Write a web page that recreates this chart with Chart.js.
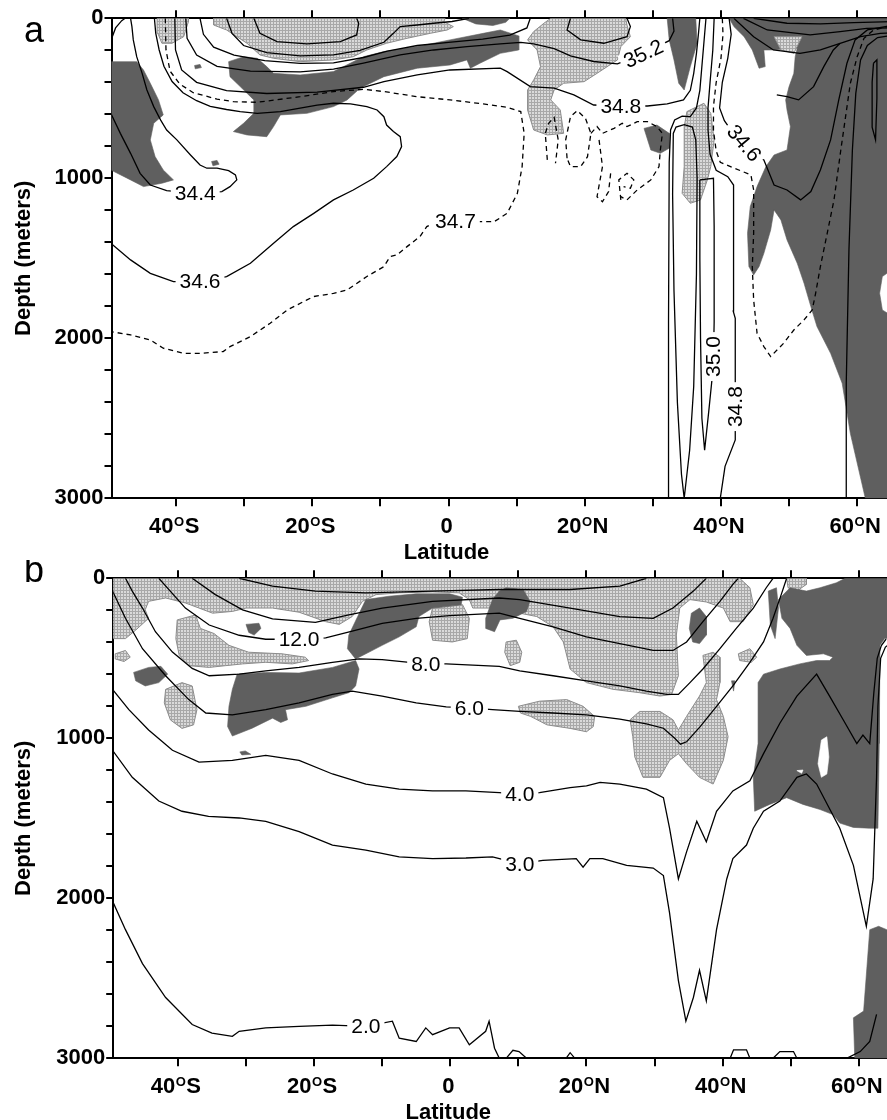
<!DOCTYPE html>
<html><head><meta charset="utf-8">
<script src="https://cdn.jsdelivr.net/npm/chart.js@4.4.1/dist/chart.umd.min.js"></script>
<style>
html,body{margin:0;padding:0;background:#fff;overflow:hidden;width:887px;height:1120px;}
#wa{position:absolute;left:0;top:0;width:900px;height:565px;}
#wb{position:absolute;left:0;top:560px;width:900px;height:560px;}
</style></head><body>
<div id="wa"><canvas id="ca" width="900" height="565"></canvas></div>
<div id="wb"><canvas id="cb" width="900" height="560"></canvas></div>
<script>
// ---------- axes ----------
const latMin = -49.5, latMax = 65;
const latTicks = [-40,-30,-20,-10,0,10,20,30,40,50,60];
const latLabelValues = [-40,-20,0,20,40,60];
const latLabelText = ['40ᴼS','20ᴼS','0','20ᴼN','40ᴼN','60ᴼN'];
const depthMin = 0, depthMax = 3000, depthStep = 200;
const depthLabels = [0,1000,2000,3000];

// ---------- panel a : salinity ----------
const aDarkWest = [[-49.6,271],[-45.8,271],[-44.8,323],[-43.8,406],[-42.6,510],[-41.9,604],[-43.3,656],[-43.8,760],[-43.1,864],[-41.9,948],[-40.4,1010],[-42.1,1031],[-44.8,1052],[-46.7,1010],[-49.6,948]];
const aDarkDot1 = [[-34.8,895],[-34,888],[-33.7,912],[-34.6,922]];
const aDarkDot2 = [[-37.3,295],[-36.5,288],[-36.3,308],[-37.2,316]];
const aLightWest = [[-42.8,0],[-38.2,0],[-38.2,21],[-38.9,115],[-40.6,156],[-42.1,156],[-42.7,94]];
const aLightSouth = [[-34.5,0],[-34.5,42],[-32.6,73],[-29.6,156],[-27.7,229],[-25.7,250],[-21.8,271],[-16.9,260],[-14,240],[-12,198],[-9.1,156],[-6.1,125],[-2.7,94],[-0.2,73],[0.7,52],[-0.7,21],[-0.5,0]];
const aDarkBand = [[-32.3,271],[-30.1,240],[-28.1,250],[-26.7,302],[-25.7,344],[-21.8,354],[-16.9,333],[-12.5,240],[-9.5,208],[-4.6,177],[0.2,135],[5.1,94],[7.6,73],[10.3,110],[10.3,198],[7.6,219],[4.6,281],[3.2,312],[2.7,260],[0.2,292],[-4.6,312],[-9.5,365],[-13,437],[-14.9,510],[-16.9,552],[-20.8,594],[-24.7,604],[-25.7,677],[-26.7,740],[-29.6,729],[-31.6,708],[-30.1,656],[-28.6,594],[-28.6,510],[-30.6,427],[-32.1,365]];
const aDarkTop = [[2,0],[9,0],[8.4,25],[6.5,45],[4,35]];
const aDarkNH1 = [[32.1,0],[36.3,0],[36.5,156],[35.5,302],[34.6,448],[33.8,406],[33.1,260],[32.4,135]];
const aDarkNH2 = [[28.7,688],[30.6,667],[32.4,719],[32.4,812],[31.1,844],[29.7,823]];
const aLightNH1 = [[12.5,83],[14,31],[15,0],[26,0],[26.2,42],[26.7,115],[25.3,177],[24.8,260],[21.8,344],[19.9,396],[16.9,406],[15.5,448],[15,510],[16.4,573],[16.9,719],[14.5,729],[12.5,698],[11.6,573],[11.6,448],[12.5,385],[13.5,302],[13,198],[11.6,135]];
const aLightNH2 = [[35,583],[37.5,531],[38.5,594],[39,760],[38.5,927],[38,1010],[37,1135],[35.5,1156],[34.3,1094],[34.6,927],[34.6,677]];
const aLightNH3 = [[47.8,115],[51.9,115],[50.7,219],[48.8,198]];
const aDarkNorth = [[41.2,0],[65.5,0],[65.5,1560],[63.7,1614],[63.3,1718],[63.7,1823],[65.5,1870],[65.5,3000],[61.2,3000],[59,2594],[57.8,2281],[56.1,2094],[54.1,1927],[53.2,1802],[52.2,1656],[51.2,1531],[49.7,1385],[48.8,1260],[47.8,1198],[47.3,1323],[46.3,1469],[45.6,1552],[44.8,1604],[44.1,1552],[43.9,1344],[44.3,1177],[45.3,1052],[46.6,927],[47.8,854],[49.7,823],[50.2,677],[49.7,573],[49.5,510],[50,427],[50.7,344],[50.9,240],[51.2,187],[47.3,198],[46.3,198],[46.5,302],[45.6,312],[44.6,198],[43.4,115],[41.9,52]];

const aC344 = [[-49.6,594],[-48.2,719],[-46.7,844],[-45.3,969],[-43.8,1042],[-41.4,1077],[-37.2,1094],[-33.3,1083],[-32.1,1052],[-31.1,1010],[-31.3,979],[-32.3,952],[-34,937],[-35.5,937],[-36.5,917],[-37.9,854],[-39.9,760],[-41.4,698],[-42.3,635],[-43.3,552],[-44.3,448],[-45,344],[-45.8,240],[-46.3,135],[-46.5,52],[-46.7,0]];
const aCCorner = [[-49.6,140],[-48.9,60],[-48,15],[-47.5,0]];
const aC346 = [[-49.6,1406],[-46.7,1510],[-43.8,1594],[-40.4,1646],[-36.5,1646],[-32.6,1614],[-29.1,1531],[-25.7,1406],[-22.8,1302],[-19.8,1219],[-16.9,1135],[-14,1073],[-11,1000],[-9.1,927],[-7.6,864],[-6.9,802],[-7.1,740],[-8.1,708],[-9.1,667],[-9.5,615],[-10.5,573],[-12,552],[-14.4,535],[-16.9,531],[-19.3,542],[-21.8,562],[-24.7,583],[-28.1,594],[-30.6,583],[-32.6,570],[-35,550],[-37,515],[-39,465],[-40.6,395],[-41.8,300],[-42.5,198],[-43,94],[-43.2,0]];
const aC348 = [[-40.2,0],[-40.1,198],[-39.2,323],[-37,400],[-32.6,452],[-26.7,470],[-19.3,462],[-12.5,431],[-9.5,396],[-4.6,354],[0.2,323],[7.6,312],[8.6,333],[12,427],[15.5,437],[18.4,479],[21.3,542],[25.3,548],[29.2,548],[32.1,535],[34.5,510],[35.5,450],[36,344],[36.4,219],[36.7,94],[36.9,0]];
const aC352 = [[-38.6,0],[-38.4,125],[-37,230],[-34,300],[-29.1,330],[-21.8,335],[-16.9,318],[-12.5,280],[-7.1,229],[-2.2,198],[2.7,177],[7.6,160],[10.6,150],[12.5,160],[15.5,190],[17.9,235],[21.3,270],[24.8,285],[27.7,235],[30.5,180],[32.4,140],[33.1,80],[32.9,0]];
const aCN5 = [[-36.5,0],[-36,100],[-34.5,180],[-31.5,230],[-27,265],[-21.8,282],[-16.9,278],[-12.5,245],[-9,205],[-4.6,170],[0,150],[5,130],[9,105],[11.5,60],[12,0]];
const aCU1 = [[-28.6,0],[-27.7,94],[-25.2,146],[-20.8,160],[-15.9,146],[-13.5,104],[-13.2,31],[-13.5,0]];
const aCU2 = [[-32.6,0],[-31.8,94],[-30.1,170],[-26.7,215],[-21.8,235],[-16.9,228],[-13,200],[-9.5,150],[-8.1,94],[-7.1,52],[-4.6,42],[-2.2,31],[0.5,20],[3,0]];
const aCNHin = [[17.9,0],[17.4,73],[19.4,135],[22.8,156],[26.2,115],[26.7,52],[26.2,0]];
const aCA = [[32.3,3000],[32.3,1900],[32.4,900],[32.6,698],[33.2,635],[34.3,612],[35.5,615],[36.4,560],[36.9,450],[37.2,300],[37.5,150],[37.8,0]];
const aCB = [[34.6,3000],[34.2,2850],[33.6,2400],[33.1,1700],[32.9,1100],[33,720],[33.4,680],[34.6,665],[35.8,680],[36.3,760],[36.5,1000],[36.4,1600],[36,2300],[35.4,2700],[34.6,3000]];
const aC350 = [[36.9,1010],[38.9,1000],[39,1300],[39,1900],[38.9,2114],[38.7,2250],[38.2,2460],[37.6,2700],[37.2,2500],[37,2000],[36.9,1500],[36.9,1010]];
const aCD = [[39.9,3000],[40.6,2800],[42.1,2635],[42.1,2427],[42.1,2250],[42.1,1875],[41.8,1830],[41.8,1400],[41.9,1042],[41,990],[39.3,950],[38.4,850],[38.1,700],[38.1,560],[38.4,400],[38.8,200],[39,0]];
const aCT1 = [[41.2,0],[41.5,100],[41,250],[40.2,400],[39.8,560],[40.5,640],[41.5,700],[43.4,781],[45.2,860],[46.3,885],[47.8,1042],[49.7,1073],[51.7,1135],[53.2,1083],[54.6,948],[56.1,760],[57.3,510],[58.5,281],[59.7,135],[61.5,73],[65.5,42]];
const aCT2 = [[58.5,3000],[58.4,2280],[58.8,1440],[59.3,823],[59.8,469],[60.5,260],[61.5,170],[63,120],[65.5,105]];
const aCLoop = [[62.4,281],[62.9,260],[62.9,500],[62.7,760],[62.2,680],[62.2,400],[62.4,281]];
const aCArcLow = [[41.9,0],[44.8,115],[47.7,198],[51.6,219],[54.6,198],[57.5,156],[60.5,115],[63.4,94],[65.5,90]];
const aCArcMid = [[43.3,0],[46.8,73],[53.1,104],[57.5,83],[61.4,63],[65.5,60]];
const aCArcTop = [[44.8,0],[49.7,31],[54.6,35],[59.5,27],[65.5,20]];
const aCZig = [[48.2,479],[49.7,490],[51.4,510],[53.6,427],[55.1,302],[56.5,198],[57.5,156]];

const aD347 = [[-41.6,0],[-41.5,198],[-40.9,330],[-39.5,410],[-37.5,465],[-34,505],[-31.6,521],[-28.1,525],[-21.8,490],[-16.9,458],[-12.5,444],[-9.5,458],[-4.6,490],[0.2,510],[5.1,535],[8.6,556],[10.6,583],[11.1,719],[10.8,927],[10.1,1094],[8.6,1219],[6.7,1271],[5.1,1271],[1,1271],[-2.2,1281],[-3.2,1302],[-4.2,1364],[-6.1,1427],[-7.6,1479],[-8.6,1490],[-9.5,1552],[-12,1614],[-14.9,1698],[-16.9,1719],[-19.8,1739],[-20.8,1760],[-23.7,1823],[-26.2,1906],[-29.1,1989],[-32.1,2052],[-33.1,2083],[-36.5,2094],[-38.9,2094],[-41.9,2062],[-43.8,2010],[-46.7,1979],[-49.6,1958]];
const aD5 = [[40.2,0],[40.3,100],[40,250],[39.3,400],[38.9,550],[38.9,700],[39.3,830],[39.9,900],[41.4,927],[44.4,979],[44.8,1073],[44.8,1344],[44.6,1552],[44.8,1760],[45.3,1968],[46.3,2052],[47.3,2114],[49.2,2031],[50.7,1948],[52.2,1885],[53.4,1823],[53.9,1719],[54.6,1552],[55.6,1344],[56.6,1135],[57.6,823],[58.3,615],[59,406],[60,240],[61,125],[62.4,73],[65.5,42]];
const aDW1 = [[14.5,885],[14.2,719],[14.7,656],[15.5,619],[16.1,760],[15.7,906]];
const aDW2 = [[17.4,875],[17.2,760],[17.9,615],[18.9,577],[20.1,625],[20.9,719],[20.4,865],[19.4,927],[17.9,927],[17.4,875]];
const aDW3 = [[20.9,719],[21.8,677],[22.6,719],[24.3,688],[25.5,656],[26.2,677],[27.7,646],[29.2,646],[30.6,677],[31.4,719],[31.1,823],[30.9,927],[29.7,1010],[27.7,1073],[26.2,1135],[25.3,1115]];
const aDW4 = [[22.1,760],[22.6,927],[21.8,1115],[22.6,1146],[23.5,1083],[23.8,969]];
const aDW5 = [[25.3,1135],[25,1010],[26.2,969],[27.2,1010],[26.7,1062],[25.7,1052]];
const aLabels = [[-37.2,1094,'34.4',0],[-36.5,1646,'34.6',0],[1,1271,'34.7',0],[28.6,222,'35.2',-25],[25.3,548,'34.8',0],[43.4,781,'34.6',50],[38.9,2114,'35.0',-90],[42.1,2427,'34.8',-90]];

// ---------- panel b : temperature ----------
const bLightTop = [[-49.6,0],[42.5,0],[44,59],[44.5,165],[43,271],[41.1,271],[40.1,186],[37.6,148],[35.2,133],[33.7,186],[33.2,355],[33.5,609],[32.5,726],[30.8,736],[27.8,715],[23.9,694],[20,652],[17.6,567],[16.6,398],[15.1,303],[12.7,239],[10.2,218],[7.8,186],[6.3,186],[3.3,186],[2.8,133],[1.3,91],[-2.6,85],[-7.5,91],[-10.9,102],[-12.9,144],[-14.4,239],[-16.3,288],[-18.3,271],[-22.2,212],[-26.1,186],[-30,186],[-32,207],[-34.9,218],[-36.9,186],[-38.9,154],[-41.8,123],[-44.3,144],[-44.8,197],[-44.3,250],[-46.2,324],[-47.7,377],[-49.6,377]];
const bLightP0 = [[-3.1,271],[-2.6,186],[-0.1,176],[1.8,165],[2.8,250],[2.5,377],[0.3,398],[-2.6,387]];
const bLightP1 = [[-40.1,260],[-37.4,229],[-36.7,313],[-34.7,345],[-32.5,419],[-29.6,462],[-24.7,472],[-21.3,493],[-20.8,514],[-23.2,535],[-27.1,525],[-30.5,535],[-33,546],[-35.4,557],[-38.4,546],[-39.8,483],[-40.3,377]];
const bLightP2 = [[-49.2,472],[-47.7,451],[-47,493],[-47.9,520],[-49.2,504]];
const bLightP3 = [[-41.8,694],[-39.4,652],[-37.9,673],[-37.2,821],[-37.7,916],[-39.4,938],[-41.1,885],[-42,779]];
const bLightP4 = [[8.2,398],[9.7,387],[10.5,462],[10.2,525],[8.8,546],[8,462]];
const bLightP5 = [[10,800],[13.1,768],[17.1,758],[19.5,800],[21.2,863],[21,927],[20,959],[17.6,938],[14.2,916],[11.8,863],[10.3,842]];
const bLightP6 = [[26.4,884],[27.8,832],[30.8,832],[32.7,884],[33.5,948],[34.7,863],[36.6,736],[37.6,652],[37.1,482],[38.6,462],[39.6,493],[39.6,652],[39.1,758],[40.1,863],[40.8,990],[40.1,1138],[38.6,1286],[36.6,1244],[34.7,1159],[33.5,1096],[32.2,1138],[30.8,1244],[28.3,1244],[27.1,1117],[26.8,990]];
const bLightP7 = [[42.3,472],[44,440],[45,493],[44.2,525],[42.5,514]];
const bLightP8 = [[49.4,0],[52.3,0],[52.3,38],[50.9,80],[49.6,59]];
const bDark1 = [[-12.4,133],[-9,112],[-5,97],[-0.1,97],[1.8,118],[1.6,165],[-2.6,186],[-4.6,239],[-5,303],[-7.5,366],[-10,419],[-12.4,472],[-13.9,504],[-15.1,440],[-14.9,355],[-13.6,239]];
const bDark2 = [[-31.3,599],[-27.1,588],[-22.2,592],[-17.3,557],[-13.9,514],[-13.4,567],[-13.9,673],[-14.9,715],[-17.3,747],[-21.2,800],[-24.2,821],[-23.9,884],[-24.9,901],[-26.1,874],[-29.1,937],[-32,986],[-32.7,927],[-32.5,800],[-32,694]];
const bDark3 = [[-46.5,588],[-44.3,557],[-42.5,550],[-41.5,599],[-42.8,652],[-44.8,673],[-46.2,641]];
const bDark4 = [[-30,288],[-28.1,281],[-27.8,313],[-28.8,355],[-29.6,338]];
const bDark5 = [[-30.9,1085],[-30.1,1079],[-29.3,1100],[-30.6,1104]];
const bDark6 = [[5.2,250],[6.2,133],[7.2,80],[8.2,59],[10.7,70],[11.7,144],[11.2,207],[9.2,250],[7.3,260],[6.5,334],[5.2,313]];
const bDark7 = [[35.4,218],[36.6,186],[37.6,239],[37.6,355],[36.6,408],[35.6,398],[35.1,313]];
const bDark8 = [[41.3,641],[41.8,641],[41.6,705]];
const bDark9 = [[46.7,80],[47.9,59],[48.2,186],[47.7,377],[47,292]];
const bDark10 = [[48.2,133],[49.9,59],[52.3,80],[54.3,59],[56.7,28],[58,0],[65.5,0],[65.5,377],[63.8,377],[63.1,419],[63,1033],[62.8,1562],[61.6,1562],[59.2,1557],[57.2,1530],[56.2,1477],[54.3,1445],[51.8,1413],[49.4,1371],[46.9,1413],[44.7,1456],[44.5,1244],[45.2,1033],[45.2,652],[46,599],[48.4,567],[51.3,535],[53.8,514],[55.7,514],[56.2,493],[54.8,472],[52.3,482],[50.9,419],[49.9,313],[48.7,250]];
const bWhite1 = [[54.5,1011],[55.3,990],[55.6,1117],[55.3,1223],[54.5,1244],[54,1159]];
const bWhite2 = [[50.9,1202],[51.8,1198],[51.6,1219]];
const bDark11 = [[61.6,2196],[62.9,2175],[64.1,2196],[65.5,2196],[65.5,3000],[59.4,3000],[59.2,2747],[60.7,2705]];

const bCa = [[-31,0],[-26.1,49],[-19.8,80],[-12.4,91],[-2.6,80],[7.2,70],[10.2,70],[17.6,70],[24.9,49],[28.8,0]];
const bCb = [[-37.9,0],[-34.5,102],[-30.5,197],[-26.1,254],[-19.8,275],[-14.9,229],[-10,186],[-2.6,144],[7.2,123],[10.2,133],[17.6,186],[24.9,239],[29.8,250],[32.7,186],[35.7,80],[37.6,0]];
const bC12 = [[-42.8,0],[-38.9,186],[-35.4,292],[-31,356],[-27.1,381],[-22.2,381],[-18.3,372],[-14.4,330],[-10,282],[-5,250],[-0.1,233],[7.2,218],[10.2,250],[15.1,303],[20,366],[24.9,408],[29.8,451],[32.7,451],[34.7,398],[37.1,271],[39.6,144],[41.5,38],[42.3,0]];
const bC8 = [[-47.7,0],[-46.7,80],[-45.2,186],[-43.3,334],[-40.8,461],[-37.9,563],[-35.4,609],[-31,599],[-27.1,578],[-22.2,557],[-17.3,525],[-13.4,504],[-10,508],[-6,525],[-3.6,535],[-0.6,535],[7.2,550],[10.2,578],[15.1,609],[20,641],[24.9,673],[28.8,705],[31.8,726],[33.5,726],[35.2,652],[37.1,567],[39.6,440],[42,313],[44.5,186],[46.4,59],[47.4,0]];
const bC6 = [[-49.6,80],[-47.7,250],[-45.2,440],[-41.8,609],[-38.4,758],[-35.9,842],[-32,853],[-27.1,821],[-22.2,779],[-17.3,726],[-14.4,705],[-10,736],[-5,779],[-0.6,804],[2.8,810],[6.2,821],[10.2,832],[15.1,842],[20,853],[24.9,880],[28.8,910],[31.3,937],[33,1001],[33.8,1037],[34.7,1022],[36.7,927],[39.1,800],[41.5,673],[44,525],[46,398],[47.4,250],[48.6,102],[49.4,0]];
const bC4 = [[-49.6,694],[-47.2,821],[-44.3,948],[-40.8,1075],[-36.9,1149],[-32,1138],[-27.1,1107],[-22.2,1138],[-17.3,1223],[-12.4,1287],[-7.5,1318],[-2.6,1329],[2.3,1329],[7.2,1339],[10.2,1350],[13.1,1339],[17.6,1308],[20,1297],[22,1276],[24.9,1286],[28.8,1318],[31.3,1371],[32.2,1562],[33.5,1879],[34.7,1710],[36.2,1519],[37.6,1646],[39.1,1456],[41.5,1329],[44,1265],[46,1096],[48.4,906],[50.9,736],[53.8,599],[55.7,736],[57.7,884],[59.7,1033],[60.6,980],[61.6,1033],[62.2,715],[62.7,500],[63.3,420],[64,380]];
const bC3 = [[-49.6,1075],[-46.7,1244],[-42.8,1392],[-39.4,1456],[-35.5,1488],[-31,1498],[-27.1,1519],[-22.2,1583],[-17.3,1667],[-12.4,1699],[-7.5,1741],[-2.6,1752],[2.3,1748],[6.2,1741],[10.2,1784],[13.6,1763],[18.5,1752],[19.5,1805],[20.5,1752],[22.4,1752],[25.9,1794],[29.8,1811],[31.3,1858],[32.2,2091],[33.5,2514],[34.6,2768],[35.7,2620],[36.6,2450],[37.6,2641],[39.1,2196],[40.6,1879],[41.5,1752],[43.5,1667],[44.5,1562],[46,1456],[48.4,1392],[50.9,1244],[52.3,1223],[53.8,1286],[57.2,1562],[59.2,1794],[61.1,2175],[62.1,1879],[62.6,1244],[62.8,800],[63.2,500],[63.9,430],[64.5,410]];
const bC2 = [[-49.6,2017],[-47.7,2196],[-45.2,2408],[-41.8,2620],[-37.9,2789],[-35,2842],[-32,2863],[-31,2831],[-27.1,2810],[-22.2,2800],[-17.3,2793],[-12.4,2800],[-8.5,2768],[-7.5,2874],[-5,2895],[-3.6,2810],[-2.6,2852],[-0.1,2810],[1.3,2810],[2.8,2916],[5.2,2831],[5.7,2768],[6.5,2937],[7.2,3000]];
const bBump1 = [[8.2,3000],[9.2,2950],[10.1,2958],[11.2,3000]];
const bBump2 = [[17,3000],[17.6,2965],[18.3,3000]];
const bBump3 = [[41.1,3000],[41.6,2947],[43.5,2947],[44,3000]];
const bBump4 = [[47.4,3000],[48.4,2958],[50.4,2958],[50.9,3000]];
const bBump5 = [[58.2,3000],[60.2,2958],[61.6,2895],[62.6,2725]];
const bLabels = [[-22.2,381,'12.0',0],[-3.6,535,'8.0',0],[2.8,810,'6.0',0],[10.2,1350,'4.0',0],[10.2,1784,'3.0',0],[-12.4,2800,'2.0',0]];

// ---------- styling / building ----------
const FONT = "'Liberation Sans', Arial, Helvetica, sans-serif";
function makePattern(){
  const pc = document.createElement('canvas'); pc.width = 3; pc.height = 3;
  const g = pc.getContext('2d');
  g.fillStyle = '#dadada'; g.fillRect(0,0,3,3);
  g.fillStyle = '#a8a8a8'; g.fillRect(0,0,3,1); g.fillRect(0,0,1,3);
  return g.createPattern(pc,'repeat');
}
const lightPat = makePattern();
const DARK = '#5f5f5f';

function ds(pts, opt){
  return Object.assign({
    data: pts.map(p => ({x:p[0], y:p[1]})),
    xAxisID:'x', yAxisID:'y',
    borderColor:'#000', borderWidth:1.3, pointRadius:0, pointHoverRadius:0,
    tension:0, fill:false, spanGaps:true
  }, opt);
}
const closed = pts => pts.concat([pts[0]]);
const light = pts => ds(closed(pts), {fill:'shape', backgroundColor:lightPat, borderColor:'#8c8c8c', borderWidth:1});
const dark = pts => ds(closed(pts), {fill:'shape', backgroundColor:DARK, borderColor:DARK, borderWidth:0.6});
const white = pts => ds(closed(pts), {fill:'shape', backgroundColor:'#fff', borderColor:'#fff', borderWidth:0.6});
const solid = pts => ds(pts, {});
const dashed = pts => ds(pts, {borderDash:[5,4]});

function annotPlugin(labels, letter, letterY){
  return {
    id:'annot',
    afterDatasetsDraw(chart){
      const {ctx, chartArea:ca, scales} = chart;
      const x = scales.x, y = scales.y;
      ctx.save();
      ctx.beginPath(); ctx.rect(ca.left, ca.top, ca.right-ca.left, ca.bottom-ca.top); ctx.clip();
      ctx.font = `21px ${FONT}`; ctx.textAlign='center'; ctx.textBaseline='middle';
      labels.forEach(l => {
        const px = x.getPixelForValue(l[0]), py = y.getPixelForValue(l[1]);
        ctx.save(); ctx.translate(px, py); ctx.rotate((l[3]||0)*Math.PI/180);
        const w = ctx.measureText(l[2]).width;
        ctx.fillStyle='#fff'; ctx.fillRect(-w/2-4, -9, w+8, 18);
        ctx.fillStyle='#000'; ctx.fillText(l[2], 0, 1);
        ctx.restore();
      });
      ctx.restore();
    },
    afterDraw(chart){
      const {ctx, chartArea:ca, scales} = chart;
      const x = scales.x;
      ctx.save(); ctx.fillStyle='#000'; ctx.textAlign='left'; ctx.textBaseline='alphabetic';
      const big = `bold 22px ${FONT}`, small = `bold 13px ${FONT}`;
      latLabelValues.forEach((v,i) => {
        const parts = latLabelText[i].split('ᴼ');
        ctx.font = big; const w1 = ctx.measureText(parts[0]).width;
        let w2 = 0, w3 = 0;
        if (parts.length > 1){ ctx.font = small; w2 = ctx.measureText('O').width + 1; ctx.font = big; w3 = ctx.measureText(parts[1]).width; }
        const px = x.getPixelForValue(v) - (w1+w2+w3)/2 - 2;
        const by = ca.bottom + 35;
        ctx.font = big; ctx.fillText(parts[0], px, by);
        if (parts.length > 1){ ctx.font = small; ctx.fillText('O', px+w1+0.5, by-7); ctx.font = big; ctx.fillText(parts[1], px+w1+w2, by); }
      });
      ctx.font = big; ctx.textAlign = 'center';
      ctx.fillText('Latitude', x.getPixelForValue(0) - 2, ca.bottom + 61);
      ctx.font = `36px ${FONT}`; ctx.textAlign = 'left';
      ctx.fillText(letter, 24, letterY);
      ctx.restore();
    }
  };
}

function makeChart(id, layers, labels, letter, letterY, yWidth, bottomH, padRight){
  const datasets = layers.slice().reverse(); // first drawn last
  const tickGrid = {drawOnChartArea:false, drawTicks:true, tickLength:8, color:'#000', lineWidth:2};
  const setTicks = s => { s.ticks = latTicks.map(v => ({value:v})); };
  return new Chart(document.getElementById(id), {
    type:'line',
    data:{datasets},
    options:{
      responsive:false, animation:false, devicePixelRatio:1, events:[],
      layout:{padding:{left:0, top:0, right:padRight, bottom:0}},
      plugins:{legend:{display:false}, tooltip:{enabled:false}},
      scales:{
        x:{type:'linear', position:'bottom', min:latMin, max:latMax,
           afterBuildTicks:setTicks, afterFit:s => { s.height = bottomH; },
           ticks:{display:false}, grid:tickGrid,
           border:{display:true, color:'#000', width:2}},
        x2:{type:'linear', position:'top', min:latMin, max:latMax,
           afterBuildTicks:setTicks, afterFit:s => { s.height = 18.3; },
           ticks:{display:false}, grid:tickGrid,
           border:{display:true, color:'#000', width:2}},
        y:{type:'linear', position:'left', min:depthMin, max:depthMax, reverse:true,
           afterFit:s => { s.width = yWidth; },
           ticks:{stepSize:depthStep, autoSkip:false, padding:1, color:'#000',
                  font:{family:FONT, size:22, weight:'bold'},
                  callback:v => depthLabels.includes(v) ? String(v) : ''},
           grid:{drawOnChartArea:false, drawTicks:true, tickLength:7, color:'#000', lineWidth:2},
           border:{display:true, color:'#000', width:2},
           title:{display:true, text:'Depth (meters)', color:'#000',
                  font:{family:FONT, size:22, weight:'bold'}, padding:{top:11, bottom:0}}}
      }
    },
    plugins:[annotPlugin(labels, letter, letterY)]
  });
}

const aLayers = [
  light(aLightWest), light(aLightSouth), light(aLightNH1), light(aLightNH2),
  dark(aDarkWest), dark(aDarkBand), dark(aDarkTop), dark(aDarkNH1), dark(aDarkNH2), dark(aDarkNorth),
  dark(aDarkDot1), dark(aDarkDot2), light(aLightNH3),
  solid(aC344), solid(aCCorner), solid(aC346), solid(aC348), solid(aC352), solid(aCN5), solid(aCU1), solid(aCU2),
  solid(aCNHin), solid(aCA), solid(aCB), solid(aC350), solid(aCD), solid(aCT1), solid(aCT2), solid(aCLoop),
  solid(aCArcLow), solid(aCArcMid), solid(aCArcTop), solid(aCZig),
  dashed(aD347), dashed(aD5), dashed(aDW1), dashed(aDW2), dashed(aDW3), dashed(aDW4), dashed(aDW5)
];
const bLayers = [
  light(bLightTop), light(bLightP0), light(bLightP1), light(bLightP2), light(bLightP3), light(bLightP4),
  light(bLightP5), light(bLightP6), light(bLightP7), light(bLightP8),
  dark(bDark1), dark(bDark2), dark(bDark3), dark(bDark4), dark(bDark5), dark(bDark6), dark(bDark7),
  dark(bDark8), dark(bDark9), dark(bDark10), dark(bDark11), white(bWhite1), white(bWhite2),
  solid(bCa), solid(bCb), solid(bC12), solid(bC8), solid(bC6), solid(bC4), solid(bC3), solid(bC2),
  solid(bBump1), solid(bBump2), solid(bBump3), solid(bBump4), solid(bBump5)
];

makeChart('ca', aLayers, aLabels, 'a', 42, 111.5, 565-18.3-480, 900-891.2);
makeChart('cb', bLayers, bLabels, 'b', 22, 113.2, 560-18.3-480, 900-892.9);
</script></body></html>
